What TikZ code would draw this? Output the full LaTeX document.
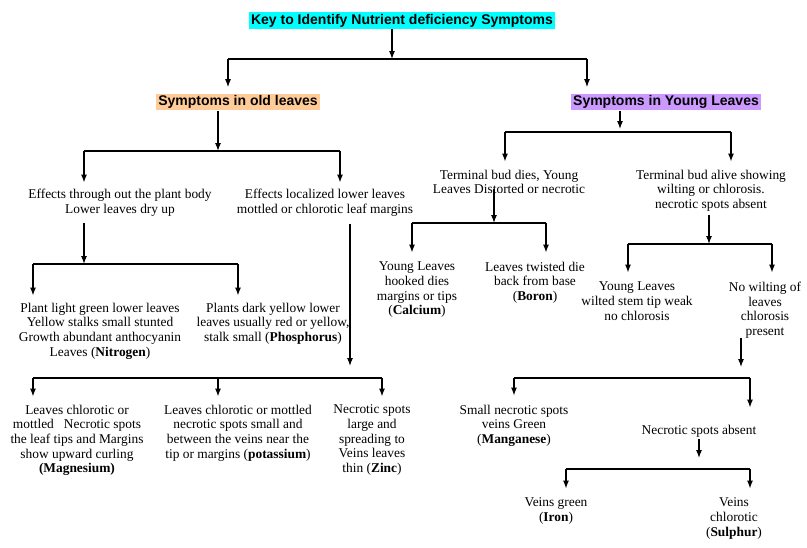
\documentclass[tikz,border=0pt]{standalone}
\usepackage{xcolor}
\usepackage{fontspec}
\setmainfont{Liberation Serif}
\newfontfamily\headfont{Liberation Sans}
\usepackage{tikz}
\usetikzlibrary{arrows.meta,positioning,calc}

\definecolor{keycyan}{RGB}{0,255,255}
\definecolor{oldpeach}{RGB}{255,204,153}
\definecolor{younglilac}{RGB}{204,153,255}

\begin{document}
\begin{tikzpicture}[x=1pt, y=-1pt, line width=1.1pt,
    header/.style={rectangle, inner xsep=2pt, inner ysep=1.8pt, font=\headfont\bfseries\fontsize{14}{15}\selectfont},
    txt/.style={align=center, inner sep=0pt, anchor=north, font=\fontsize{13.4}{14.6}\selectfont},
    arrow/.style={-{Latex[length=8pt,width=6pt]}},
    kid/.style={arrow, shorten >=7pt}]

\useasboundingbox (0,0) rectangle (807,547);

% Title and the two main groups
\node[header, fill=keycyan] (key_title) at (402,20.5) {Key to Identify Nutrient deficiency Symptoms};
\node[header, fill=oldpeach] (old_leaves) at (238,102) {Symptoms in old leaves};
\node[header, fill=younglilac] (young_leaves) at (666,102) {Symptoms in Young Leaves};

% Old leaves branch
\node[txt] (old_body) at (120,188.5) {Effects through out the plant body\\Lower leaves dry up};
\node[txt] (old_local) at (325,188.5) {Effects localized lower leaves\\mottled or chlorotic leaf margins};
\node[txt] (nitrogen) at (100,302.5) {Plant light green lower leaves\\Yellow stalks small stunted\\Growth abundant anthocyanin\\Leaves (\textbf{Nitrogen})};
\node[txt] (phosphorus) at (273,302.5) {Plants dark yellow lower\\leaves usually red or yellow,\\stalk small (\textbf{Phosphorus})};
\node[txt] (magnesium) at (77,404.5) {Leaves chlorotic or\\mottled~~ Necrotic spots\\the leaf tips and Margins\\show upward curling\\\textbf{(Magnesium)}};
\node[txt] (potassium) at (238,404.5) {Leaves chlorotic or mottled\\necrotic spots small and\\between the veins near the\\tip or margins (\textbf{potassium})};
\node[txt] (zinc) at (372,404.5) {Necrotic spots\\large and\\spreading to\\Veins leaves\\thin (\textbf{Zinc})};

% Young leaves branch
\node[txt] (bud_dies) at (509,169.5) {Terminal bud dies, Young\\Leaves Distorted or necrotic};
\node[txt] (bud_alive) at (711,169.5) {Terminal bud alive showing\\wilting or chlorosis.\\necrotic spots absent};
\node[txt] (calcium) at (417,261.5) {Young Leaves\\hooked dies\\margins or tips\\(\textbf{Calcium})};
\node[txt] (boron) at (535,261.5) {Leaves twisted die\\back from base\\(\textbf{Boron})};
\node[txt] (wilted) at (637,281.5) {Young Leaves\\wilted stem tip weak\\no chlorosis};
\node[txt] (no_wilt) at (765,281.5) {No wilting of\\leaves\\chlorosis\\present};
\node[txt] (manganese) at (514,404.5) {Small necrotic spots\\veins Green\\(\textbf{Manganese})};
\node[txt] (spots_absent) at (699,424.5) {Necrotic spots absent};
\node[txt] (iron) at (556,497.5) {Veins green\\(\textbf{Iron})};
\node[txt] (sulphur) at (734,497.5) {Veins\\chlorotic\\(\textbf{Sulphur})};

% Junctions
\coordinate (j_key) at (392,59);
\coordinate (j_key_l) at (228,59);
\coordinate (j_key_r) at (587,59);
\coordinate (j_old) at (218,151);
\coordinate (j_old_l) at (84,151);
\coordinate (j_old_r) at (340,151);
\coordinate (j_body) at (84,264);
\coordinate (j_body_l) at (33,264);
\coordinate (j_body_r) at (238,264);
\coordinate (j_local) at (350,378);
\coordinate (j_local_l) at (33,378);
\coordinate (j_local_m) at (218,378);
\coordinate (j_local_r) at (382,378);
\coordinate (j_young) at (620,132);
\coordinate (j_young_l) at (505,132);
\coordinate (j_young_r) at (731,132);
\coordinate (j_dies) at (494,223);
\coordinate (j_dies_l) at (412,223);
\coordinate (j_dies_r) at (546,223);
\coordinate (j_alive) at (709,244);
\coordinate (j_alive_l) at (628,244);
\coordinate (j_alive_r) at (772,244);
\coordinate (j_nowilt) at (741,378);
\coordinate (j_nowilt_l) at (514,378);
\coordinate (j_nowilt_r) at (750,378);
\coordinate (j_absent) at (699,469);
\coordinate (j_absent_l) at (566,469);
\coordinate (j_absent_r) at (750,469);

% Title to groups
\draw[arrow] (key_title.south -| j_key) -- (j_key);
\draw (j_key_l) -- (j_key_r);
\draw[kid, shorten >=6pt] (j_key_l) -- (j_key_l |- old_leaves.north);
\draw[kid, shorten >=6pt] (j_key_r) -- (j_key_r |- young_leaves.north);

% Old leaves connectors
\draw[arrow] (old_leaves.south -| j_old) -- (j_old);
\draw (j_old_l) -- (j_old_r);
\draw[kid, shorten >=6pt] (j_old_l) -- (j_old_l |- old_body.north);
\draw[kid, shorten >=6pt] (j_old_r) -- (j_old_r |- old_local.north);

\draw[arrow, shorten <=6pt] (old_body.south -| j_body) -- (j_body);
\draw (j_body_l) -- (j_body_r);
\draw[kid] (j_body_l) -- (j_body_l |- nitrogen.north);
\draw[kid] (j_body_r) -- (j_body_r |- phosphorus.north);

\draw[arrow, shorten <=7pt, shorten >=12pt] (old_local.south -| j_local) -- (j_local);
\draw (j_local_l) -- (j_local_r);
\draw[kid, shorten >=8pt] (j_local_l) -- (j_local_l |- magnesium.north);
\draw[kid, shorten >=8pt] (j_local_m) -- (j_local_m |- potassium.north);
\draw[kid, shorten >=8pt] (j_local_r) -- (j_local_r |- zinc.north);

% Young leaves connectors
\draw[arrow, shorten >=3pt] (young_leaves.south -| j_young) -- (j_young);
\draw (j_young_l) -- (j_young_r);
\draw[kid, shorten >=8pt] (j_young_l) -- (j_young_l |- bud_dies.north);
\draw[kid, shorten >=8pt] (j_young_r) -- (j_young_r |- bud_alive.north);

\draw[arrow, shorten <=-6pt] (bud_dies.south -| j_dies) -- (j_dies);
\draw (j_dies_l) -- (j_dies_r);
\draw[kid, shorten >=9pt] (j_dies_l) -- (j_dies_l |- calcium.north);
\draw[kid, shorten >=9pt] (j_dies_r) -- (j_dies_r |- boron.north);

\draw[arrow, shorten <=3pt] (bud_alive.south -| j_alive) -- (j_alive);
\draw (j_alive_l) -- (j_alive_r);
\draw[kid, shorten >=9pt] (j_alive_l) -- (j_alive_l |- wilted.north);
\draw[kid, shorten >=9pt] (j_alive_r) -- (j_alive_r |- no_wilt.north);

\draw[arrow, shorten <=-1pt, shorten >=11pt] (no_wilt.south -| j_nowilt) -- (j_nowilt);
\draw (j_nowilt_l) -- (j_nowilt_r);
\draw[kid, shorten >=9pt] (j_nowilt_l) -- (j_nowilt_l |- manganese.north);
\draw[kid, shorten >=17pt] (j_nowilt_r) -- (j_nowilt_r |- spots_absent.north);

\draw[arrow, shorten <=1pt, shorten >=11pt] (spots_absent.south -| j_absent) -- (j_absent);
\draw (j_absent_l) -- (j_absent_r);
\draw[kid, shorten >=9pt] (j_absent_l) -- (j_absent_l |- iron.north);
\draw[kid, shorten >=9pt] (j_absent_r) -- (j_absent_r |- sulphur.north);

\end{tikzpicture}
\end{document}
